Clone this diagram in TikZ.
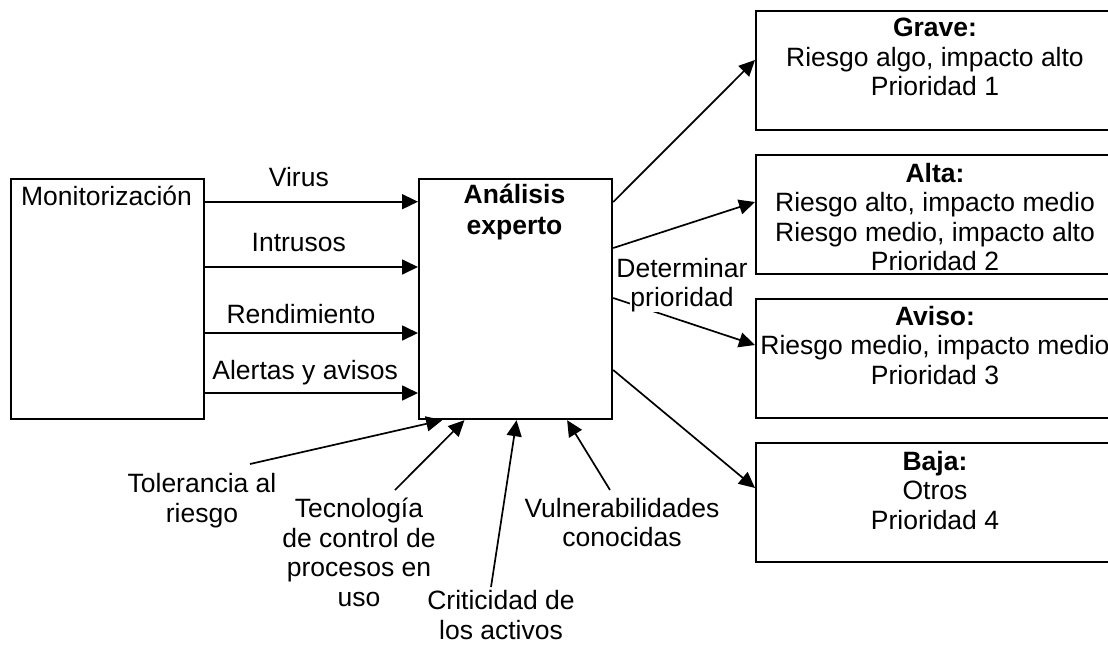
\documentclass[tikz,border=0pt]{standalone}
\usepackage{fontspec}
\setmainfont{Liberation Sans}
\usepackage{tikz}
\usetikzlibrary{arrows.meta}
\usetikzlibrary{calc}
\tikzset{
	edge/.style={-{Triangle[length=8pt,width=7.5pt]},line width=0.85pt},
	box/.style={draw,line width=1.1pt,inner sep=0pt,anchor=north west},
	prio/.style={box,minimum width=180pt,minimum height=59.5pt},
	txt/.style={align=center,inner sep=0pt,anchor=north,font=\fontsize{13.25}{14.8}\selectfont}
}

\begin{document}
\begin{tikzpicture}[x=0.5pt,y=-0.5pt]
	\useasboundingbox (0,0) rectangle (1108,644);
	
	\node[box,minimum width=96.5pt,minimum height=120pt] (mon) at (10,178) {};
	\node[box,minimum width=96.5pt,minimum height=120pt] (ana) at (418,178) {};
	\node[txt] (monT) at (106.5,185.5) {Monitorización};
	\node[txt,font=\fontsize{13.25}{15.5}\selectfont\bfseries] (anaT) at (514.5,184) {Análisis\\experto};
	
	% prioridades
	\node[prio] (grave) at (755,10) {};
	\node[prio] (alta) at (755,154) {};
	\node[prio] (aviso) at (755,298) {};
	\node[prio] (baja) at (755,442) {};
	\node[txt] (graveT) at (935,17.5) {\textbf{Grave:}\\Riesgo algo, impacto alto\\Prioridad 1};
	\node[txt] (altaT) at (935,162.5) {\textbf{Alta:}\\Riesgo alto, impacto medio\\Riesgo medio, impacto alto\\Prioridad 2};
	\node[txt] (avisoT) at (935,305.5) {\textbf{Aviso:}\\Riesgo medio, impacto medio\\Prioridad 3};
	\node[txt] (bajaT) at (935,450.5) {\textbf{Baja:}\\Otros\\Prioridad 4};
	
	% entradas
	\foreach \dy/\lab/\p/\gap in {23.7/Virus/0.44/7, 89/Intrusos/0.44/7.3, 155/Rendimiento/0.45/4.3, 215/Alertas y avisos/0.47/6.5}
		\draw[edge] ($(mon.north east)+(0,\dy)$) -- ($(ana.north west)+(0,\dy)$)
			node[txt,anchor=south,text depth=0pt,pos=\p,yshift=\gap pt] {\lab};
	
	\draw[edge] ($(ana.north east)+(0,24)$) -- ($(grave.north west)+(0,50)$);
	\draw[edge] ($(ana.north east)+(0,70)$) -- ($(alta.north west)+(0,48)$);
	\draw[edge] ($(ana.north east)+(0,120)$) -- ($(aviso.north west)+(0,47)$);
	\draw[edge] ($(ana.north east)+(0,192)$) -- ($(baja.north west)+(0,46)$);
	\node[txt] (det) at (682,257.5) {Determinar\\{\setlength\fboxsep{0pt}\colorbox{white}{prioridad}}};
	
	% factores
	\node[txt] (tol) at (202,473) {Tolerancia al\\riesgo};
	\node[txt] (tec) at (359,497.5) {Tecnología\\de control de\\procesos en\\uso};
	\node[txt] (cri) at (501,590) {Criticidad de\\los activos};
	\node[txt] (vul) at (622,497.5) {Vulnerabilidades\\conocidas};
	
	\draw[edge] ($(tol.north)+(48,-9)$) -- ($(ana.south west)!0.124!(ana.south east)$);
	\draw[edge] ($(tec.north)+(36,-7.5)$) -- ($(ana.south west)!0.238!(ana.south east)$);
	\draw[edge] ($(cri.north)+(-10,-3)$) -- ($(ana.south west)!0.505!(ana.south east)$);
	\draw[edge] ($(vul.north)+(-12,-7.5)$) -- ($(ana.south west)!0.764!(ana.south east)$);
\end{tikzpicture}
\end{document}
